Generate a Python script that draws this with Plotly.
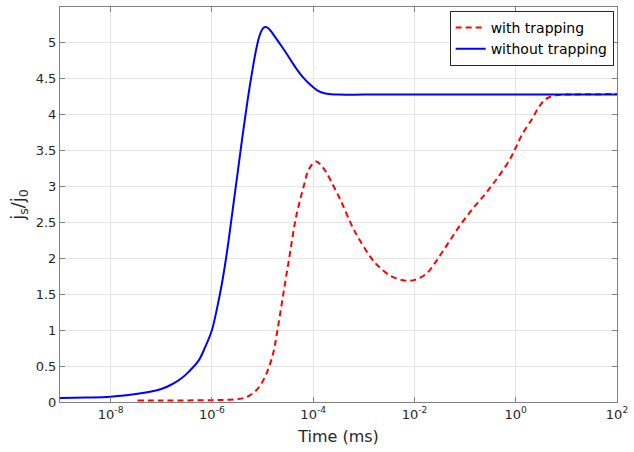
import plotly.graph_objects as go

# Data (log10 of time in ms, normalized current)
t_with_log = [-7.47, -7.0, -6.5, -6.0, -5.7, -5.48, -5.28, -5.09, -4.92, -4.79, -4.71, -4.6,
              -4.47, -4.34, -4.17, -4.11, -4.03, -3.94, -3.86, -3.78, -3.72, -3.46, -3.19,
              -2.87, -2.74, -2.48, -2.18, -1.99, -1.76, -1.60, -1.43, -1.27, -1.11, -0.94,
              -0.78, -0.62, -0.49, -0.36, -0.13, 0.0, 0.13, 0.33, 0.45, 0.55, 0.65, 0.8,
              1.0, 1.5, 2.0]
j_with = [0.02, 0.02, 0.022, 0.026, 0.03, 0.04, 0.08, 0.19, 0.40, 0.68, 0.98, 1.46,
          2.02, 2.57, 3.05, 3.20, 3.30, 3.35, 3.31, 3.24, 3.17, 2.81, 2.39,
          2.02, 1.91, 1.76, 1.69, 1.70, 1.79, 1.93, 2.11, 2.28, 2.45, 2.61,
          2.75, 2.88, 3.0, 3.12, 3.36, 3.54, 3.73, 3.95, 4.10, 4.19, 4.24, 4.27,
          4.28, 4.285, 4.29]

t_without_log = [-9.0, -8.5, -8.0, -7.5, -7.0, -6.78, -6.6, -6.46, -6.26, -6.13, -6.0, -5.9,
                 -5.8, -5.7, -5.6, -5.5, -5.4, -5.3, -5.2, -5.12, -5.05, -4.98, -4.94, -4.88,
                 -4.83, -4.76, -4.62, -4.48, -4.34, -4.2, -4.06, -3.92, -3.78, -3.64, -3.5,
                 -3.0, -2.0, 0.0, 2.0]
j_without = [0.055, 0.062, 0.074, 0.11, 0.18, 0.25, 0.33, 0.42, 0.58, 0.77, 1.0, 1.3,
             1.66, 2.1, 2.62, 3.15, 3.68, 4.18, 4.62, 4.93, 5.12, 5.21, 5.22, 5.20,
             5.16, 5.09, 4.95, 4.80, 4.65, 4.52, 4.42, 4.34, 4.30, 4.285, 4.28,
             4.28, 4.28, 4.28, 4.28]

x_tick_vals = [1e-8, 1e-6, 1e-4, 1e-2, 1e0, 1e2]
x_tick_text = ["10<sup>-8</sup>", "10<sup>-6</sup>", "10<sup>-4</sup>",
               "10<sup>-2</sup>", "10<sup>0</sup>", "10<sup>2</sup>"]

t_with = [10 ** v for v in t_with_log]
t_without = [10 ** v for v in t_without_log]

fig = go.Figure()
fig.add_trace(go.Scatter(x=t_with, y=j_with, mode="lines", name="with trapping",
                         line=dict(color="#ff0000", width=2, dash="6px,4px",
                                   shape="spline", smoothing=1.0)))
fig.add_trace(go.Scatter(x=t_without, y=j_without, mode="lines", name="without trapping",
                         line=dict(color="#0000ff", width=2, shape="spline", smoothing=1.0)))

axis_common = dict(showline=True, linecolor="#808080", linewidth=1, mirror="ticks",
                   ticks="inside", ticklen=5, tickcolor="#808080",
                   showgrid=True, gridcolor="#e5e5e5", gridwidth=1, zeroline=False,
                   tickfont=dict(family="DejaVu Sans", size=13, color="#262626"))

fig.update_layout(
    width=634, height=452,
    margin=dict(l=60, r=12, t=6, b=50),
    paper_bgcolor="white", plot_bgcolor="white",
    font=dict(family="DejaVu Sans", color="#262626"),
    xaxis=dict(type="log", range=[-9, 2], tickvals=x_tick_vals, ticktext=x_tick_text,
               title=dict(text="Time (ms)", font=dict(size=16, color="#262626"), standoff=10),
               **axis_common),
    yaxis=dict(range=[0, 5.5], dtick=0.5, tick0=0,
               title=dict(text="j<sub>s</sub>/j<sub>0</sub>", font=dict(size=18, color="#262626"),
                          standoff=6),
               **axis_common),
    legend=dict(x=0.994, y=0.99, xanchor="right", yanchor="top",
                bgcolor="white", bordercolor="#262626", borderwidth=1,
                font=dict(family="DejaVu Sans", size=14, color="#000000"),
                tracegroupgap=0, itemwidth=30),
    showlegend=True,
)

fig.write_html("out.html")
